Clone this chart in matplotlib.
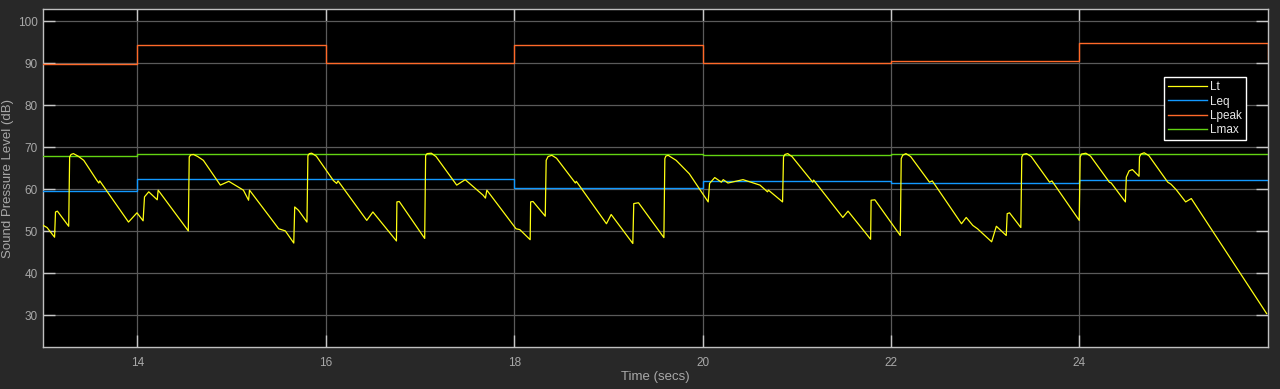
import numpy as np
import matplotlib
matplotlib.use("Agg")
import matplotlib.pyplot as plt

plt.rcParams['font.family'] = ['Liberation Sans', 'DejaVu Sans']

# step series (time of change, level)
peak_t = [13, 14, 16, 18, 20, 22, 24, 26]
peak_db = [89.9, 94.3, 90.1, 94.4, 90.0, 90.5, 94.8, 91.0]

leq_t = [13, 14, 18, 20, 22, 24, 26]
leq_db = [59.5, 62.5, 60.3, 62.0, 61.4, 62.1, 62.1]

max_t = [13, 14, 20, 22, 26]
max_db = [67.9, 68.5, 68.2, 68.5, 68.5]

# instantaneous level Lt
lt_t = [13.0, 13.04, 13.12, 13.13, 13.15, 13.27, 13.28, 13.295, 13.32, 13.37,
        13.43, 13.57, 13.59, 13.60, 13.905, 13.995, 14.06, 14.075, 14.12, 14.21,
        14.22, 14.54, 14.55, 14.565, 14.595, 14.64, 14.70, 14.88, 14.97, 15.125,
        15.18, 15.19, 15.50, 15.57, 15.66, 15.67, 15.71, 15.80, 15.81, 15.825,
        15.85, 15.90, 16.08, 16.115, 16.13, 16.435, 16.50, 16.63, 16.75, 16.755,
        16.78, 17.05, 17.06, 17.075, 17.12, 17.17, 17.39, 17.48, 17.67, 17.695,
        17.71, 18.02, 18.06, 18.17, 18.175, 18.20, 18.33, 18.34, 18.36, 18.40,
        18.45, 18.63, 18.65, 18.66, 18.98, 19.03, 19.26, 19.27, 19.32, 19.59,
        19.60, 19.61, 19.635, 19.72, 19.79, 19.86, 20.06, 20.075, 20.13, 20.20,
        20.22, 20.27, 20.43, 20.61, 20.69, 20.70, 20.85, 20.86, 20.875, 20.905,
        20.95, 21.17, 21.18, 21.49, 21.545, 21.785, 21.79, 21.83, 22.10, 22.11,
        22.125, 22.16, 22.21, 22.41, 22.44, 22.75, 22.80, 22.87, 22.92, 23.07,
        23.12, 23.225, 23.235, 23.26, 23.38, 23.39, 23.405, 23.44, 23.49, 23.685,
        23.71, 24.00, 24.01, 24.025, 24.07, 24.12, 24.32, 24.34, 24.49, 24.50,
        24.53, 24.565, 24.635, 24.64, 24.655, 24.69, 24.74, 24.94, 24.975, 25.03,
        25.13, 25.19, 25.99]
lt_db = [51.4, 50.9, 48.6, 54.6, 54.8, 51.2, 67.7, 68.3, 68.5, 67.9,
         66.9, 62.1, 61.5, 62.0, 52.2, 54.4, 52.5, 58.2, 59.4, 57.5,
         59.8, 50.1, 67.7, 68.2, 68.3, 67.8, 66.9, 61.0, 61.9, 59.8,
         57.4, 59.8, 50.6, 50.1, 47.2, 55.8, 55.0, 52.2, 68.0, 68.5,
         68.6, 67.9, 62.1, 61.4, 62.0, 52.6, 54.6, 51.0, 47.7, 57.0,
         57.1, 48.3, 68.0, 68.5, 68.6, 67.8, 61.0, 62.3, 58.6, 57.9,
         59.8, 50.6, 50.4, 48.0, 57.0, 57.1, 53.6, 66.9, 67.8, 68.1,
         67.4, 62.1, 61.5, 61.9, 51.8, 54.0, 47.1, 56.6, 56.8, 48.5,
         67.3, 67.9, 68.1, 66.9, 65.3, 63.7, 57.0, 61.4, 62.8, 61.7,
         62.3, 61.5, 62.3, 61.0, 59.4, 59.8, 57.0, 67.7, 68.3, 68.5,
         67.8, 61.7, 62.2, 53.3, 54.8, 48.1, 57.4, 57.5, 49.0, 67.3,
         68.1, 68.5, 67.8, 61.7, 62.0, 51.8, 53.3, 51.4, 50.6, 47.5,
         51.2, 49.0, 54.2, 54.4, 50.9, 67.7, 68.3, 68.5, 67.8, 61.7,
         62.0, 52.6, 67.7, 68.4, 68.6, 67.9, 61.7, 61.5, 57.0, 62.9,
         64.4, 64.7, 63.1, 67.7, 68.4, 68.7, 68.0, 61.7, 61.2, 59.9,
         57.0, 57.8, 30.4]

bg = '#282828'
txt = '#a8a8a8'

fig = plt.figure(figsize=(12.8, 3.89), dpi=100, facecolor=bg)
ax = fig.add_axes([0.0338, 0.108, 0.9565, 0.868])
ax.set_facecolor('black')

ax.plot(lt_t, lt_db, color='#ffff11', lw=0.9, label='Lt', zorder=4)
ax.step(leq_t, leq_db, where='post', color='#1299ff', lw=1.0, label='Leq', zorder=3)
ax.step(peak_t, peak_db, where='post', color='#ff6929', lw=1.0, label='Lpeak', zorder=3)
ax.step(max_t, max_db, where='post', color='#63d412', lw=1.0, label='Lmax', zorder=3)

ax.set_xlim(13, 26)
ax.set_ylim(22.45, 102.86)
ax.set_xticks([14, 16, 18, 20, 22, 24])
ax.set_yticks([30, 40, 50, 60, 70, 80, 90, 100])
ax.grid(True, color='#5a5a5a', lw=0.9)
ax.tick_params(direction='in', length=8.5, width=1, color='#c8c8c8',
               labelcolor=txt, labelsize=8.5, top=True, right=True)
ax.tick_params(axis='x', pad=7)
ax.tick_params(axis='y', pad=4)
for s in ax.spines.values():
    s.set_color('#c0c0c0')
    s.set_linewidth(1)

ax.set_xlabel('Time (secs)', color=txt, fontsize=9.5)
ax.xaxis.set_label_coords(0.5, -0.072)
ax.set_ylabel('Sound Pressure Level (dB)', color=txt, fontsize=9.5)
ax.yaxis.set_label_coords(-0.0235, 0.5)

leg = ax.legend(loc='upper right', bbox_to_anchor=(0.9826, 0.7995), borderaxespad=0,
                fontsize=8.5, handlelength=3.3, handletextpad=0.3, labelspacing=0.2,
                fancybox=False, framealpha=1, facecolor='black', edgecolor='white',
                borderpad=0.35)
for t in leg.get_texts():
    t.set_color('#e8e8e8')
leg.get_frame().set_linewidth(1)

fig.savefig('out.png', dpi=100, facecolor=bg)
